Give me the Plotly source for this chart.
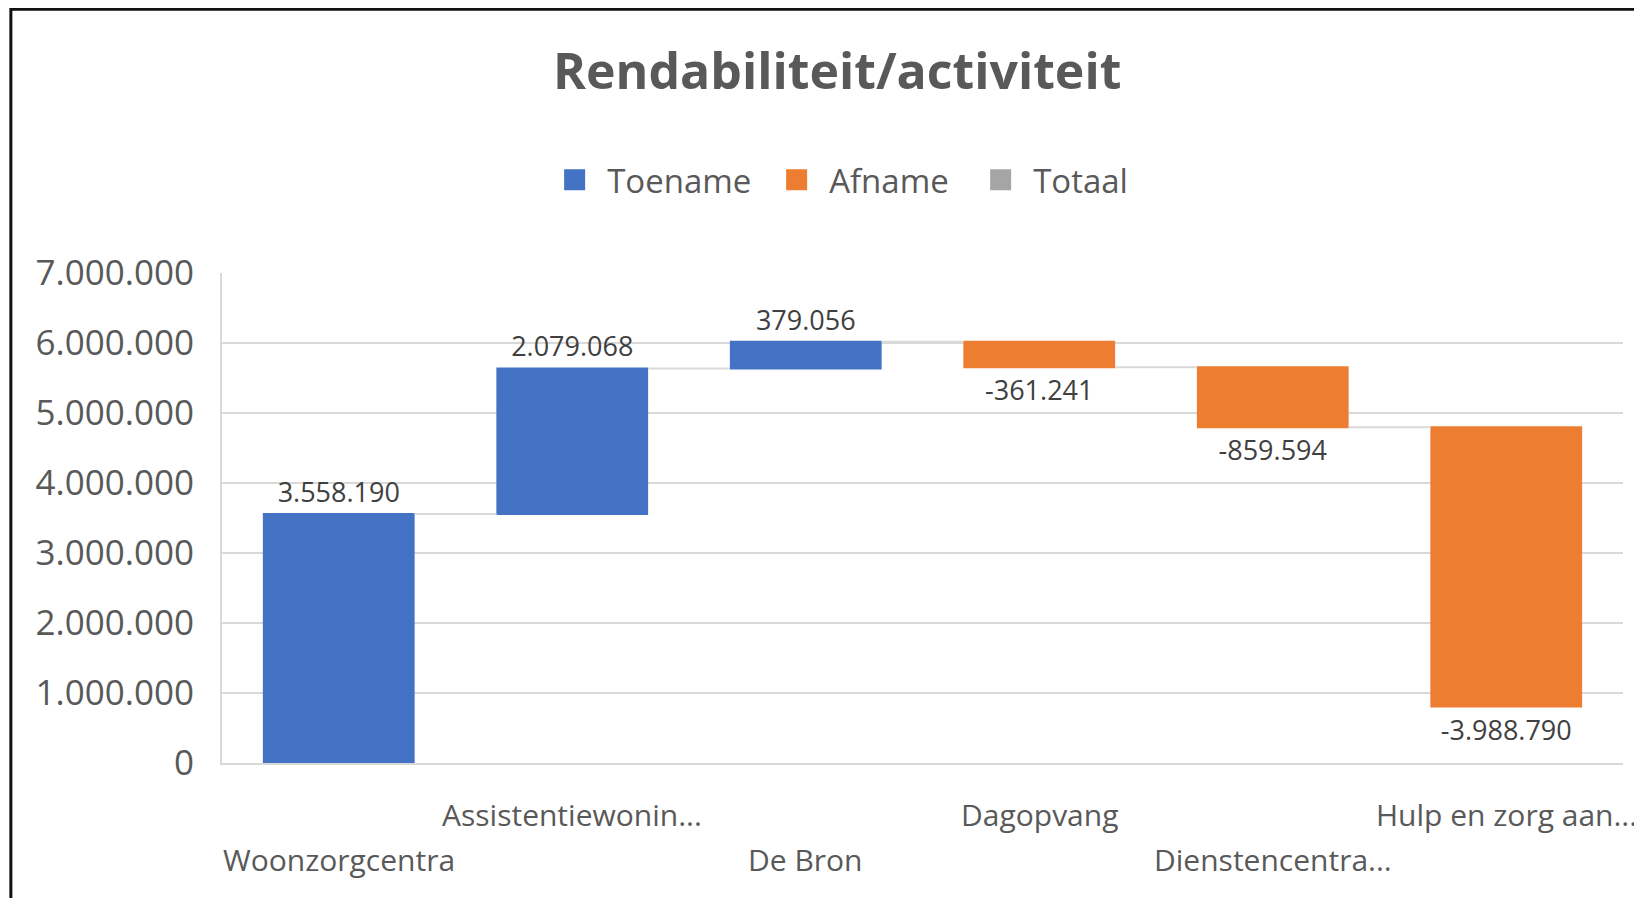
import plotly.graph_objects as go

# ---- data ----
categories = ["Woonzorgcentra", "Assistentiewonin...", "De Bron",
              "Dagopvang", "Dienstencentra...", "Hulp en zorg aan..."]
values = [3558190, 2079068, 379056, -361241, -859594, -3988790]
measures = ["relative", "relative", "relative", "relative", "relative", "relative"]
label_rows = [1, 0, 1, 0, 1, 0]  # 0 = upper row, 1 = lower row (staggered labels)
y_ticks = [0, 1000000, 2000000, 3000000, 4000000, 5000000, 6000000, 7000000]
legend_names = ["Toename", "Afname", "Totaal"]
legend_colors = ["#4472C4", "#ED7D31", "#A5A5A5"]


def nl(v):
    return f"{v:,}".replace(",", ".")


bar_labels = [nl(v) for v in values]
tick_text = [nl(v) for v in y_ticks]

FONT = "Open Sans"
GREY = "#595959"

fig = go.Figure()

fig.add_trace(go.Waterfall(
    x=categories,
    y=values,
    measure=measures,
    text=bar_labels,
    textposition="outside",
    textfont=dict(family=FONT, size=27, color="#404040"),
    constraintext="none",
    cliponaxis=False,
    increasing=dict(marker=dict(color=legend_colors[0], line=dict(width=0))),
    decreasing=dict(marker=dict(color=legend_colors[1], line=dict(width=0))),
    totals=dict(marker=dict(color=legend_colors[2], line=dict(width=0))),
    connector=dict(line=dict(color="#D9D9D9", width=2), mode="between"),
    showlegend=False,
    hoverinfo="x+y",
))

# legend entries (per-entry width to reproduce the spacing of the original)
legend_widths = [152, 134, 95]
for name, col, lw in zip(legend_names, legend_colors, legend_widths):
    fig.add_trace(go.Scatter(
        x=[None], y=[None], mode="markers", name=name, legendwidth=lw,
        marker=dict(symbol="square", size=16, color=col,
                    line=dict(color=col, width=5)),
    ))

# staggered category labels
for cat, row in zip(categories, label_rows):
    fig.add_annotation(
        x=cat, xref="x", y=-0.106 if row == 0 else -0.196, yref="paper",
        text=cat, showarrow=False, xanchor="center", yanchor="middle",
        font=dict(family=FONT, size=30, color=GREY),
    )

# outer chart border (only top and left edges fall inside the picture)
fig.add_shape(type="rect", xref="paper", yref="paper",
              x0=-0.1507, x1=1.1, y0=-0.4, y1=1.5382,
              line=dict(color="#111111", width=3), fillcolor="rgba(0,0,0,0)",
              layer="above")

fig.update_layout(
    width=1642, height=898,
    margin=dict(l=214, r=27, t=265, b=143),
    paper_bgcolor="white", plot_bgcolor="white",
    waterfallgap=0.35,
    font=dict(family=FONT, color=GREY),
    title=dict(text="Rendabiliteit/activiteit", x=0.505, xref="container",
               xanchor="center", y=1 - 63 / 898, yanchor="middle",
               font=dict(family=FONT, size=50, color=GREY, weight=700)),
    legend=dict(orientation="h", x=0.2285, xanchor="left", y=1.19,
                yanchor="middle", font=dict(family=FONT, size=33, color=GREY),
                itemwidth=55,
                itemclick=False, itemdoubleclick=False),
    xaxis=dict(type="category", range=[-0.5, 5.5], showticklabels=False,
               showgrid=False, showline=True, linecolor="#D9D9D9", linewidth=2,
               ticks="", zeroline=False, fixedrange=True),
    yaxis=dict(range=[0, 7000000], tickvals=y_ticks, ticktext=tick_text,
               tickfont=dict(family=FONT, size=35, color=GREY),
               showgrid=True, gridcolor="#D9D9D9", gridwidth=2,
               showline=True, linecolor="#D9D9D9", linewidth=2,
               zeroline=False, ticks="", ticklabelstandoff=19,
               fixedrange=True),
)

fig.write_html("out.html")
